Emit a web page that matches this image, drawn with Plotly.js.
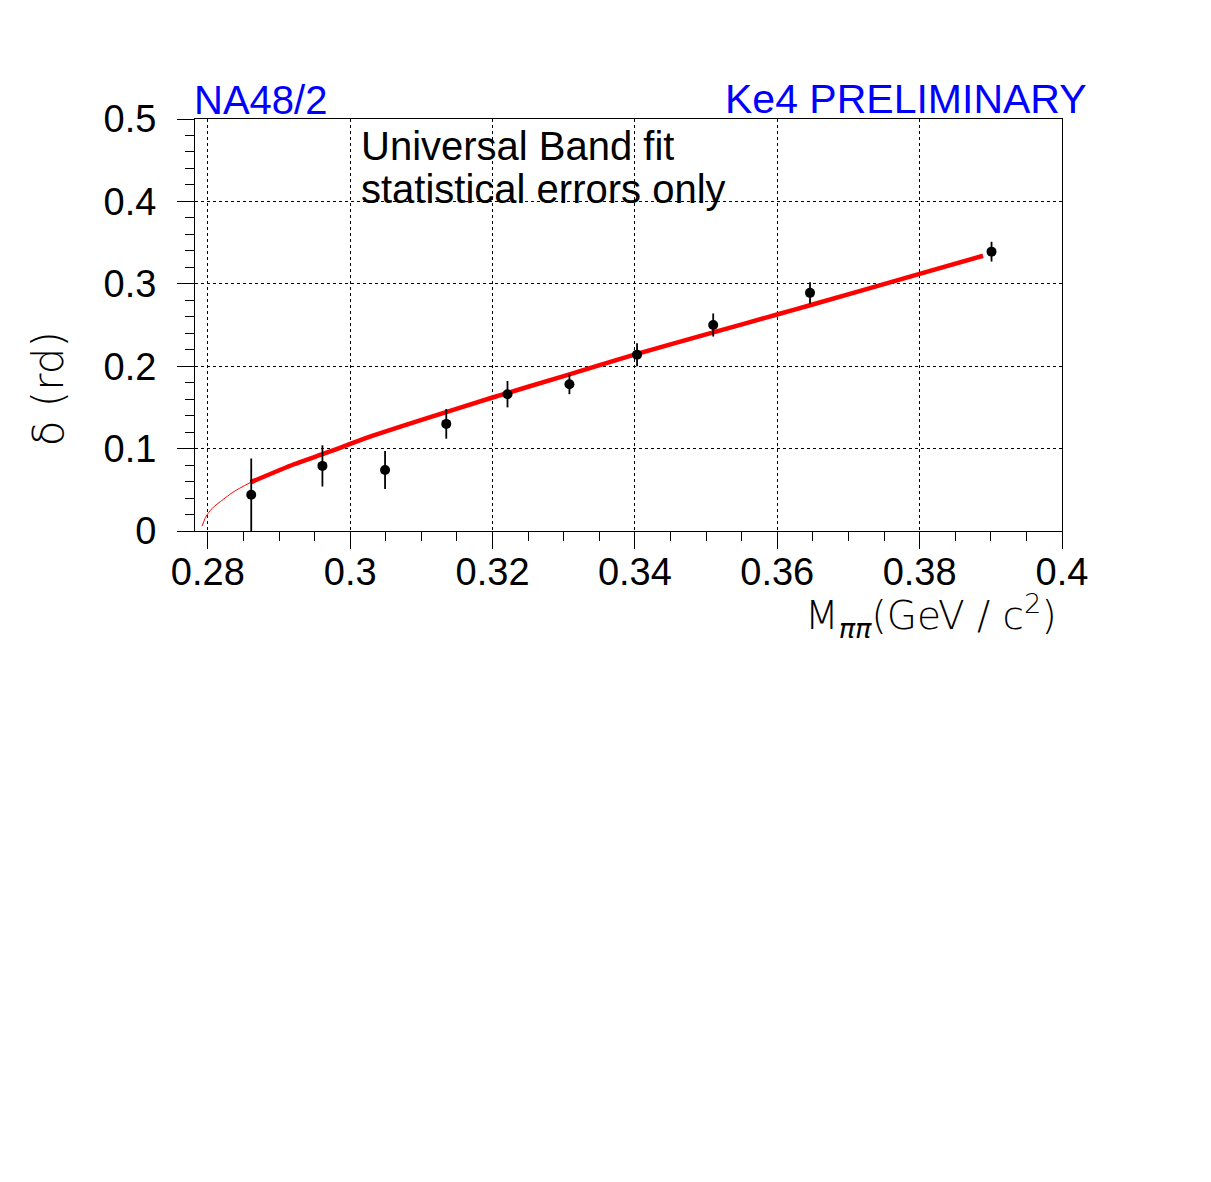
<!DOCTYPE html>
<html>
<head>
<meta charset="utf-8">
<script src="https://cdn.plot.ly/plotly-3.0.1.min.js"></script>
<style>
  body { margin: 0; background: #fff; }
  #deltaplot { width: 1211px; height: 1182px; }
</style>
</head>
<body>
<div id="deltaplot"></div>
<script>
var mpp   = [0.2861, 0.2961, 0.3049, 0.3135, 0.3221, 0.3308, 0.3403, 0.3510, 0.3646, 0.3901];
var delta = [0.044, 0.079, 0.074, 0.130, 0.166, 0.178, 0.214, 0.250, 0.289, 0.339];
var err   = [0.044, 0.025, 0.023, 0.018, 0.016, 0.012, 0.014, 0.014, 0.013, 0.012];

// universal band fit, thin part below the first bin
var fitLowX = [0.2792, 0.2796, 0.2800, 0.2808, 0.2818, 0.2837, 0.2860];
var fitLowY = [0.006, 0.015, 0.021, 0.029, 0.036, 0.048, 0.059];

// thick part of the fit
var fitX = [0.2860, 0.2921, 0.2967, 0.3001, 0.3033, 0.3097, 0.3200, 0.3300, 0.3403, 0.3510, 0.3601, 0.3646, 0.3800, 0.3889];
var fitY = [0.059, 0.081, 0.095, 0.106, 0.116, 0.134, 0.162, 0.188, 0.215, 0.241, 0.263, 0.274, 0.312, 0.334];

var fitThin = {
  x: fitLowX, y: fitLowY,
  mode: 'lines', type: 'scatter',
  line: {color: 'rgb(255,0,0)', width: 1, shape: 'spline', smoothing: 0.6},
  hoverinfo: 'skip'
};

var fitThick = {
  x: fitX, y: fitY,
  mode: 'lines', type: 'scatter',
  line: {color: 'rgb(255,0,0)', width: 4.5, shape: 'spline', smoothing: 0.6},
  hoverinfo: 'skip'
};

var points = {
  x: mpp, y: delta,
  mode: 'markers', type: 'scatter',
  marker: {color: 'black', size: 10},
  error_y: {type: 'data', array: err, visible: true, color: 'black', thickness: 1.8, width: 0}
};

var tickFont = {family: 'Liberation Sans, Arial, sans-serif', size: 38, color: 'black'};

var layout = {
  width: 1211, height: 1182,
  margin: {l: 195, r: 149, t: 119, b: 651, pad: 0},
  paper_bgcolor: 'white', plot_bgcolor: 'white',
  showlegend: false,
  xaxis: {
    range: [0.2782, 0.4], tick0: 0.28, dtick: 0.02,
    tickformat: '~g',
    ticks: 'outside', ticklen: 17, tickwidth: 1, tickcolor: 'black',
    ticklabelstandoff: -10,
    showline: true, linecolor: 'black', linewidth: 1, mirror: true,
    showgrid: true, gridcolor: 'black', gridwidth: 1, griddash: 'dot',
    zeroline: false,
    tickfont: tickFont,
    minor: {tick0: 0.28, dtick: 0.005, ticks: 'outside', ticklen: 9, tickcolor: 'black', showgrid: false}
  },
  yaxis: {
    range: [0, 0.5], tick0: 0, dtick: 0.1,
    tickformat: '~g',
    ticks: 'outside', ticklen: 17, tickwidth: 1, tickcolor: 'black',
    ticklabelstandoff: 13,
    showline: true, linecolor: 'black', linewidth: 1, mirror: true,
    showgrid: true, gridcolor: 'black', gridwidth: 1, griddash: 'dot',
    zeroline: false,
    tickfont: tickFont,
    minor: {tick0: 0, dtick: 0.02, ticks: 'outside', ticklen: 9, tickcolor: 'black', showgrid: false}
  },
  annotations: [
    {text: 'NA48/2', xref: 'paper', yref: 'paper', x: -0.004, y: 1, yshift: -5, xanchor: 'left', yanchor: 'bottom',
     showarrow: false, font: {family: 'Liberation Sans, Arial, sans-serif', size: 40, color: 'rgb(0,0,255)'}},
    {text: 'Ke4 PRELIMINARY', xref: 'paper', yref: 'paper', x: 1.031, y: 1, yshift: -5, xanchor: 'right', yanchor: 'bottom',
     showarrow: false, font: {family: 'Liberation Sans, Arial, sans-serif', size: 41, color: 'rgb(0,0,255)'}},
    {text: 'Universal Band fit', xref: 'paper', yref: 'paper', x: 0.1895, y: 0.992, xanchor: 'left', yanchor: 'top',
     height: 44, valign: 'middle',
     showarrow: false, font: {family: 'Liberation Sans, Arial, sans-serif', size: 40, color: 'black'}},
    {text: 'statistical errors only', xref: 'paper', yref: 'paper', x: 0.1895, y: 0.888, xanchor: 'left', yanchor: 'top',
     height: 44, valign: 'middle',
     showarrow: false, font: {family: 'Liberation Sans, Arial, sans-serif', size: 40, color: 'black'}},
    {text: 'M<sub><i>ππ</i></sub>(GeV / c<sup>2</sup>)', xref: 'paper', yref: 'paper', x: 0.997, y: -0.206,
     xanchor: 'right', yanchor: 'middle', showarrow: false,
     font: {family: 'DejaVu Sans, sans-serif', size: 39, color: 'black', weight: 300}},
    {text: 'δ (rd)', xref: 'paper', yref: 'paper', x: -0.168, y: 0.345, textangle: -90,
     xanchor: 'center', yanchor: 'middle', showarrow: false,
     font: {family: 'DejaVu Sans, sans-serif', size: 42, color: 'black', weight: 300}}
  ]
};

Plotly.newPlot('deltaplot', [fitThin, fitThick, points], layout, {displayModeBar: false, staticPlot: true});
</script>
</body>
</html>
